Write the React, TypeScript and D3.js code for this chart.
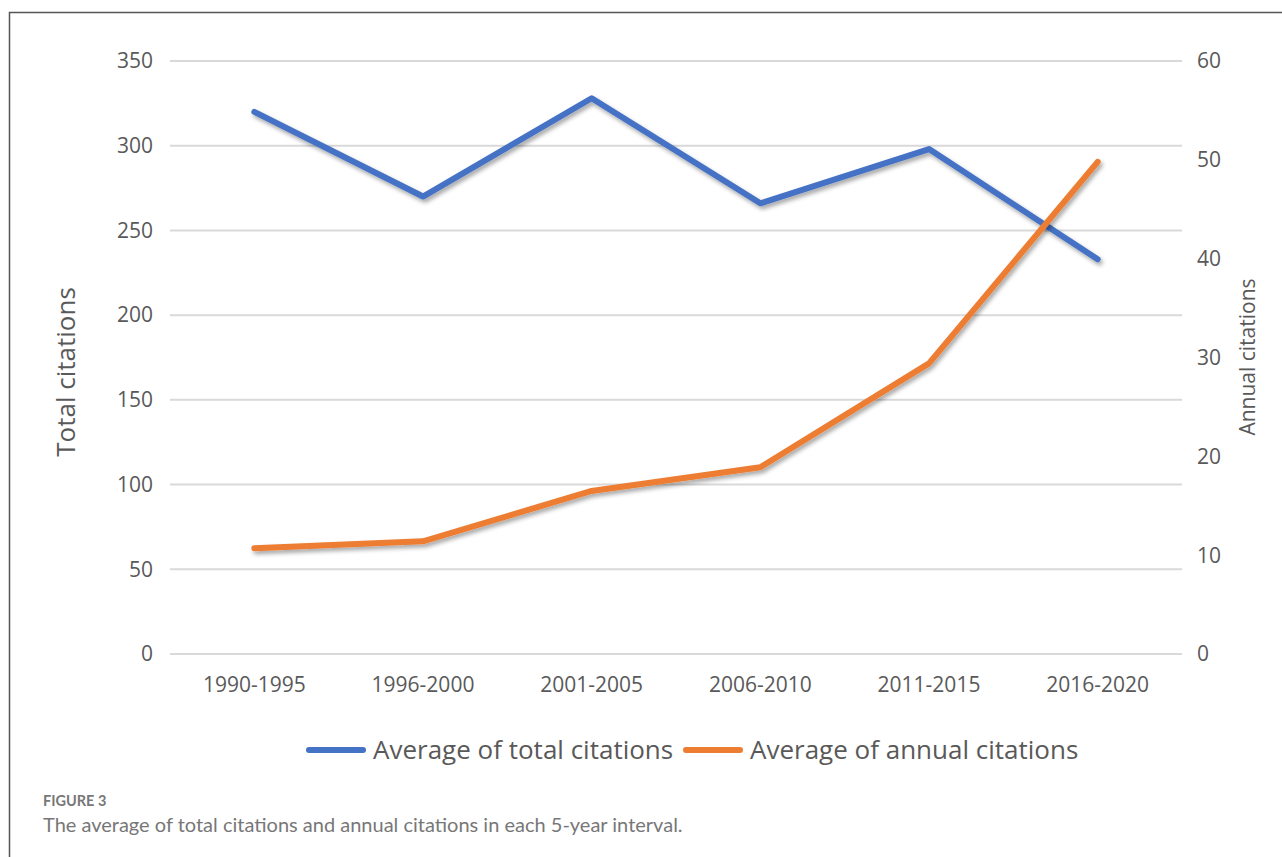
import React, { useEffect, useRef } from 'react';
import * as d3 from 'd3';

const categories = ['1990-1995', '1996-2000', '2001-2005', '2006-2010', '2011-2015', '2016-2020'];
const totalCitations = [320, 270, 328, 266, 298, 233];
const annualCitations = [10.7, 11.4, 16.5, 18.9, 29.4, 49.8];
const leftTicks = [0, 50, 100, 150, 200, 250, 300, 350];
const rightTicks = [0, 10, 20, 30, 40, 50, 60];

const W = 1282;
const H = 857;
const FONT = 'Open Sans, Noto Sans, sans-serif';

const App: React.FC = () => {
  const svgRef = useRef<SVGSVGElement | null>(null);

  useEffect(() => {
    if (!svgRef.current) return;
    const svg = d3.select(svgRef.current);
    svg.selectAll('*').remove();

    const margin = { top: 61, bottom: 654, left: 170, right: 1182 };

    const x = d3.scalePoint<string>()
      .domain(categories)
      .range([margin.left, margin.right])
      .padding(0.5);
    const yL = d3.scaleLinear().domain([0, 350]).range([margin.bottom, margin.top]);
    const yR = d3.scaleLinear().domain([0, 60]).range([margin.bottom, margin.top]);

    const defs = svg.append('defs');
    const f = defs.append('filter').attr('id', 'shadow')
      .attr('x', '-10%').attr('y', '-10%').attr('width', '120%').attr('height', '130%');
    f.append('feDropShadow')
      .attr('dx', 2).attr('dy', 3).attr('stdDeviation', 2)
      .attr('flood-color', '#000').attr('flood-opacity', 0.35);

    // frame
    svg.append('path')
      .attr('d', `M9.5,${H} L9.5,12.5 L${W},12.5`)
      .attr('fill', 'none').attr('stroke', '#555').attr('stroke-width', 1.5);

    // gridlines
    svg.append('g').selectAll('line').data(leftTicks).join('line')
      .attr('x1', margin.left).attr('x2', margin.right)
      .attr('y1', d => yL(d)).attr('y2', d => yL(d))
      .attr('stroke', '#d9d9d9').attr('stroke-width', 2);

    // left ticks
    svg.append('g').selectAll('text').data(leftTicks).join('text')
      .attr('x', 153).attr('y', d => yL(d)).attr('dy', '0.35em')
      .attr('text-anchor', 'end').attr('font-family', FONT).attr('font-size', 21)
      .attr('fill', '#595959').text(d => d);

    // right ticks
    svg.append('g').selectAll('text').data(rightTicks).join('text')
      .attr('x', 1197).attr('y', d => yR(d)).attr('dy', '0.35em')
      .attr('text-anchor', 'start').attr('font-family', FONT).attr('font-size', 21)
      .attr('fill', '#595959').text(d => d);

    // category labels
    svg.append('g').selectAll('text').data(categories).join('text')
      .attr('x', d => x(d) as number).attr('y', 685).attr('dy', '0.35em')
      .attr('text-anchor', 'middle').attr('font-family', FONT).attr('font-size', 21)
      .attr('fill', '#595959').text(d => d);

    // axis titles
    svg.append('text')
      .attr('transform', `translate(75,372) rotate(-90)`)
      .attr('text-anchor', 'middle').attr('font-family', FONT).attr('font-size', 26)
      .attr('fill', '#595959').text('Total citations');
    svg.append('text')
      .attr('transform', `translate(1255,357) rotate(-90)`)
      .attr('text-anchor', 'middle').attr('font-family', FONT).attr('font-size', 21)
      .attr('fill', '#595959').text('Annual citations');

    const lineL = d3.line<number>().x((_, i) => x(categories[i]) as number).y(d => yL(d));
    const lineR = d3.line<number>().x((_, i) => x(categories[i]) as number).y(d => yR(d));

    svg.append('path').datum(totalCitations)
      .attr('d', lineL).attr('fill', 'none').attr('stroke', '#4472c4')
      .attr('stroke-width', 6).attr('stroke-linecap', 'round').attr('stroke-linejoin', 'round')
      .attr('filter', 'url(#shadow)');
    svg.append('path').datum(annualCitations)
      .attr('d', lineR).attr('fill', 'none').attr('stroke', '#ed7d31')
      .attr('stroke-width', 6).attr('stroke-linecap', 'round').attr('stroke-linejoin', 'round')
      .attr('filter', 'url(#shadow)');

    // legend
    const legend = [
      { label: 'Average of total citations', color: '#4472c4', x0: 309 },
      { label: 'Average of annual citations', color: '#ed7d31', x0: 686 },
    ];
    const lg = svg.append('g');
    legend.forEach(l => {
      lg.append('line')
        .attr('x1', l.x0).attr('x2', l.x0 + 54).attr('y1', 750).attr('y2', 750)
        .attr('stroke', l.color).attr('stroke-width', 6).attr('stroke-linecap', 'round');
      lg.append('text')
        .attr('x', l.x0 + 64).attr('y', 750).attr('dy', '0.35em')
        .attr('font-family', FONT).attr('font-size', 26).attr('fill', '#595959')
        .text(l.label);
    });

    // caption
    svg.append('text')
      .attr('x', 43).attr('y', 806)
      .attr('font-family', 'Lato, Noto Sans, sans-serif').attr('font-size', 14.5)
      .attr('font-weight', 'bold').attr('fill', '#777').text('FIGURE 3');
    svg.append('text')
      .attr('x', 43).attr('y', 832)
      .attr('font-family', 'Lato, Noto Sans, sans-serif').attr('font-size', 20)
      .attr('fill', '#777')
      .text('The average of total citations and annual citations in each 5-year interval.');
  }, []);

  return (
    <svg ref={svgRef} width={W} height={H}
      style={{ position: 'absolute', left: 0, top: 0, background: '#fff' }} />
  );
};

export default App;
